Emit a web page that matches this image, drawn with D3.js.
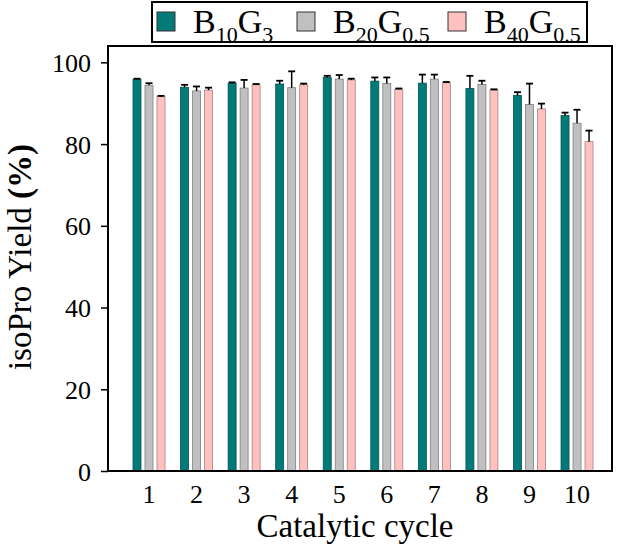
<!DOCTYPE html>
<html><head><meta charset="utf-8">
<script src="https://cdn.jsdelivr.net/npm/d3@7"></script>
<style>body{margin:0;background:#fff}svg{display:block}</style>
</head><body>
<svg id="c" width="619" height="544"></svg>
<script>
const cycles = ["1","2","3","4","5","6","7","8","9","10"];
const seriesKeys = ["B10G3","B20G0.5","B40G0.5"];
const b10g3 = [95.8,93.9,94.9,94.7,96.3,95.4,94.9,93.6,91.9,87.0];
const b10g3Err = [0.2,0.6,0.2,0.8,0.4,0.9,2.1,3.1,0.8,0.7];
const b20g05 = [94.4,93.0,93.7,93.8,95.9,94.8,95.9,94.6,89.7,85.1];
const b20g05Err = [0.5,1.1,2.0,4.0,1.0,1.5,1.1,0.9,5.1,3.3];
const b40g05 = [91.6,93.2,94.5,94.5,95.7,93.4,95.0,93.2,88.6,80.6];
const b40g05Err = [0.2,0.6,0.2,0.3,0.3,0.2,0.2,0.2,1.3,2.7];
const yTicks = [0,20,40,60,80,100];

const fills = ["#027b78","#c0c0c0","#ffc0c0"];
const edges = ["#015553","#7f7f7f","#a88080"];
const legendParts = [["B","10","G","3"],["B","20","G","0.5"],["B","40","G","0.5"]];

const values = [b10g3,b20g05,b40g05];
const errs = [b10g3Err,b20g05Err,b40g05Err];

const svg = d3.select("#c");
const L=108,R=612,T=46,B=471;
const font = "'Liberation Serif','Times New Roman',serif";

const y = d3.scaleLinear().domain([0,104]).range([B,T]);
const x0 = d3.scaleBand().domain(cycles).range([125.2,600.8]).padding(0);
const x1 = d3.scaleBand().domain(seriesKeys).range([5.8,41.8]).paddingInner(1/3).paddingOuter(1/6);

const data = [];
cycles.forEach((c,i)=>seriesKeys.forEach((k,j)=>data.push({c,k,j,v:values[j][i],e:errs[j][i]})));

const g = svg.append("g");
g.selectAll("rect.bar").data(data).enter().append("rect")
  .attr("class","bar")
  .attr("x",d=>x0(d.c)+x1(d.k))
  .attr("y",d=>y(d.v))
  .attr("width",x1.bandwidth())
  .attr("height",d=>y(0)-y(d.v))
  .attr("fill",d=>fills[d.j])
  .attr("stroke",d=>edges[d.j])
  .attr("stroke-width",0.8);
const eb = g.selectAll("g.err").data(data).enter().append("g").attr("class","err");
eb.append("line")
  .attr("x1",d=>x0(d.c)+x1(d.k)+x1.bandwidth()/2)
  .attr("x2",d=>x0(d.c)+x1(d.k)+x1.bandwidth()/2)
  .attr("y1",d=>y(d.v)).attr("y2",d=>y(d.v+d.e))
  .attr("stroke","#000").attr("stroke-width",1.5);
eb.append("line")
  .attr("x1",d=>x0(d.c)+x1(d.k)+x1.bandwidth()/2-3.5)
  .attr("x2",d=>x0(d.c)+x1(d.k)+x1.bandwidth()/2+3.5)
  .attr("y1",d=>y(d.v+d.e)).attr("y2",d=>y(d.v+d.e))
  .attr("stroke","#000").attr("stroke-width",1.8);

svg.append("rect").attr("x",L).attr("y",T).attr("width",R-L).attr("height",B-T)
  .attr("fill","none").attr("stroke","#000").attr("stroke-width",2);

const ya = svg.append("g").attr("transform",`translate(${L},0)`)
  .call(d3.axisLeft(y).tickValues(yTicks).tickSize(7).tickSizeOuter(0).tickPadding(10));
ya.select(".domain").remove();
ya.selectAll("line").attr("stroke","#000").attr("stroke-width",1.5);
ya.selectAll("text").attr("font-family",font).attr("font-size",26).attr("fill","#000").attr("dy","0.35em");

const xa = svg.append("g").attr("transform",`translate(0,${B})`)
  .call(d3.axisBottom(x0).tickSize(0).tickPadding(14));
xa.select(".domain").remove();
xa.selectAll("text").attr("font-family",font).attr("font-size",26).attr("fill","#000").attr("dy","0.71em");

svg.append("text").attr("x",355).attr("y",537).attr("text-anchor","middle")
  .attr("font-family",font).attr("font-size",33).attr("fill","#000").text("Catalytic cycle");
const yt = svg.append("text").attr("transform","translate(31,257) rotate(-90)").attr("text-anchor","middle")
  .attr("font-family",font).attr("font-size",33).attr("fill","#000");
yt.append("tspan").text("isoPro Yield ");
yt.append("tspan").attr("font-weight","bold").text("(%)");

svg.append("rect").attr("x",152).attr("y",2).attr("width",435).attr("height",40)
  .attr("fill","#fff").attr("stroke","#000").attr("stroke-width",2);
const legX = [157,297,448];
const lg = svg.selectAll("g.leg").data(seriesKeys).enter().append("g").attr("class","leg")
  .attr("transform",(d,i)=>`translate(${legX[i]},0)`);
lg.append("rect").attr("x",0).attr("y",12).attr("width",18).attr("height",19)
  .attr("fill",(d,i)=>fills[i]).attr("stroke","#333").attr("stroke-width",1);
lg.each(function(d,i){
  const t = d3.select(this).append("text").attr("x",36).attr("y",33)
    .attr("font-family",font).attr("font-size",34).attr("fill","#000");
  const p = legendParts[i];
  t.append("tspan").text(p[0]);
  t.append("tspan").attr("font-size",22).attr("dy",9).text(p[1]);
  t.append("tspan").attr("dy",-9).text(p[2]);
  t.append("tspan").attr("font-size",22).attr("dy",9).text(p[3]);
});
</script>
</body></html>
